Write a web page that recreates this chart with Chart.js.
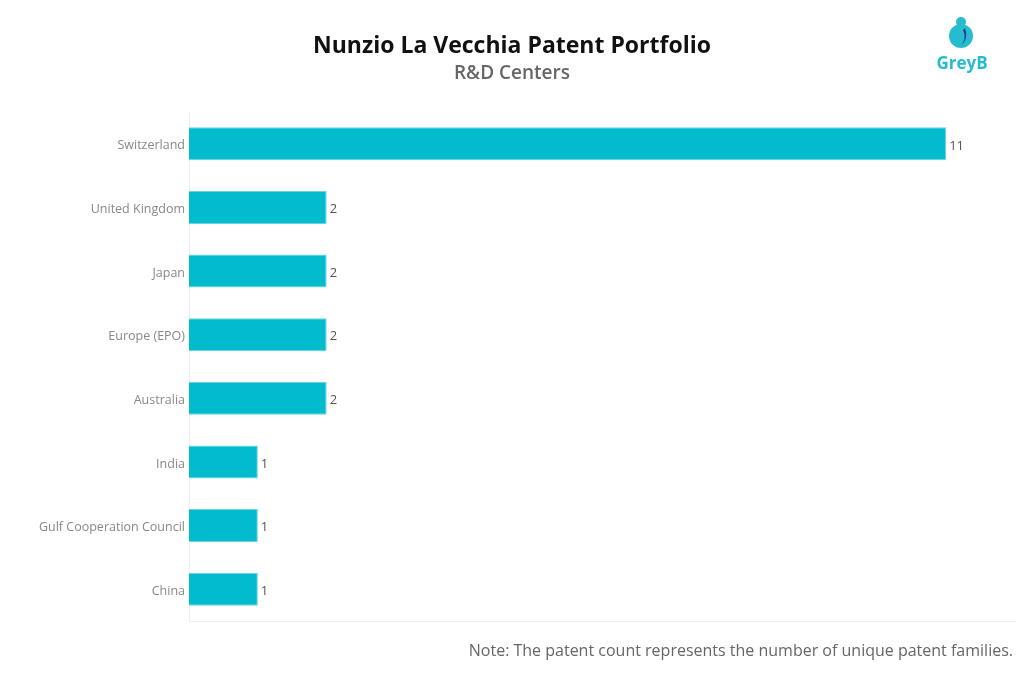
<!DOCTYPE html>
<html>
<head>
<meta charset="utf-8">
<script src="https://cdn.jsdelivr.net/npm/chart.js@4"></script>
<style>
  body { margin: 0; background: #fff; font-family: "Open Sans", sans-serif; }
  #wrap { position: relative; width: 1024px; height: 683px; }
  #title { position: absolute; top: 28px; left: 0; width: 1024px; text-align: center; font-size: 23px; font-weight: bold; color: #111; }
  #subtitle { position: absolute; top: 59px; left: 0; width: 1024px; text-align: center; font-size: 19px; font-weight: 600; color: #666; }
  #note { position: absolute; top: 639px; right: 11px; font-size: 16px; color: #666; }
  #logo { position: absolute; left: 934px; top: 16px; width: 56px; text-align: center; }
  #logo .txt { font-size: 17px; font-weight: bold; color: #26bcd0; margin-top: -4px; }
</style>
</head>
<body>
<div id="wrap">
  <canvas id="chart" width="1024" height="683"></canvas>
  <div id="title">Nunzio La Vecchia Patent Portfolio</div>
  <div id="subtitle">R&amp;D Centers</div>
  <div id="note">Note: The patent count represents the number of unique patent families.</div>
  <div id="logo">
    <svg width="30" height="34" viewBox="0 0 30 34">
      <circle cx="14" cy="20" r="12" fill="#26bcd0"/>
      <circle cx="14" cy="6" r="5" fill="#26bcd0"/>
      <path d="M18 12 Q22 22 14 30 Q20 22 16 14 Z" fill="#2a3a8f"/>
    </svg>
    <div class="txt">GreyB</div>
  </div>
</div>
<script>
const countries = ["Switzerland", "United Kingdom", "Japan", "Europe (EPO)", "Australia", "India", "Gulf Cooperation Council", "China"];
const patentCounts = [11, 2, 2, 2, 2, 1, 1, 1];

// value labels at the end of each bar
const valueLabels = {
  id: "valueLabels",
  afterDatasetsDraw(chart) {
    const ctx = chart.ctx;
    const meta = chart.getDatasetMeta(0);
    ctx.save();
    ctx.font = "13px 'Open Sans', sans-serif";
    ctx.fillStyle = "#555";
    ctx.textBaseline = "middle";
    meta.data.forEach((bar, i) => {
      ctx.fillText(patentCounts[i], bar.x + 3, bar.y + 2);
    });
    ctx.restore();
  },
};

new Chart(document.getElementById("chart").getContext("2d"), {
  type: "bar",
  data: {
    labels: countries,
    datasets: [
      {
        data: patentCounts,
        backgroundColor: "#00bccd",
        borderColor: "#6ed3df",
        borderWidth: { top: 1, bottom: 1, left: 0, right: 1 },
        borderSkipped: "left",
        barPercentage: 1,
        categoryPercentage: 0.52,
      },
    ],
  },
  options: {
    indexAxis: "y",
    responsive: false,
    animation: false,
    layout: { padding: { top: 112, bottom: 62, right: 9, left: 0 } },
    plugins: { legend: { display: false }, tooltip: { enabled: false } },
    scales: {
      x: {
        min: 0,
        max: 12,
        ticks: { display: false },
        grid: { display: false, drawTicks: false },
        border: { display: true, color: "#eeeeee" },
        afterFit(scale) { scale.height = 0; },
      },
      y: {
        grid: { display: false, drawTicks: false },
        border: { display: true, color: "#eeeeee" },
        ticks: {
          color: "#888",
          padding: 4,
          labelOffset: 2,
          font: { family: "'Open Sans', sans-serif", size: 12.5 },
        },
        afterFit(scale) { scale.width = 189; },
      },
    },
  },
  plugins: [valueLabels],
});
</script>
</body>
</html>
